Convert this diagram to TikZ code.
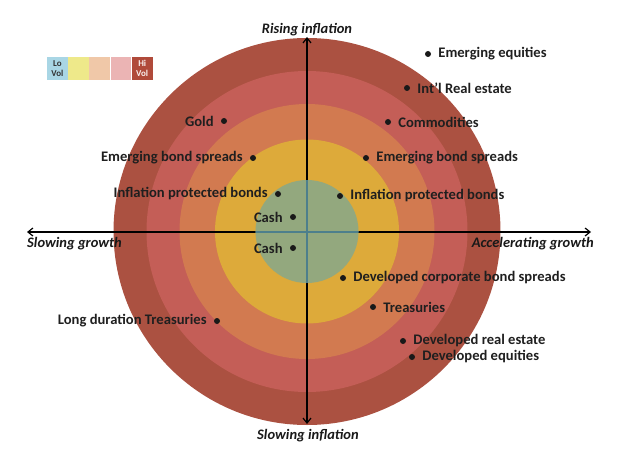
\documentclass[tikz,border=0pt]{standalone}
\usepackage{fontspec}
\setmainfont{Carlito}
\usetikzlibrary{arrows.meta,positioning}
\definecolor{ringout}{HTML}{AB5141}
\definecolor{ringred}{HTML}{C45E57}
\definecolor{ringorange}{HTML}{D27A50}
\definecolor{ringyellow}{HTML}{DDAA3A}
\definecolor{ringgreen}{HTML}{93A87E}
\definecolor{axisteal}{HTML}{4D7F8C}
\definecolor{vollo}{HTML}{A9D6E5}
\definecolor{volyellow}{HTML}{EEE98A}
\definecolor{volpeach}{HTML}{F0C8A8}
\definecolor{volpink}{HTML}{EBB4B4}
\definecolor{volhi}{HTML}{B04A3A}

\begin{document}
\begin{tikzpicture}[x=1pt,y=-1pt,
    dot/.style={circle,fill=black!90,inner sep=0pt,minimum size=6pt},
    lbl/.style={font=\fontsize{14.6}{17}\selectfont\bfseries,text=black!88,inner sep=0pt},
    axislabel/.style={font=\fontsize{14.5}{17}\selectfont\bfseries\itshape,text=black!90,inner sep=0pt},
    axis/.style={line width=1.2pt,{Straight Barb[length=5pt,width=8pt]}-{Straight Barb[length=5pt,width=8pt]}},
    volcell/.style={minimum width=20.8pt,minimum height=23pt,inner sep=0pt,
      font=\fontsize{9}{9.5}\selectfont\bfseries,align=center}]
  \useasboundingbox (0,0) rectangle (631,473);

  \coordinate (c) at (307,231.5);
  \fill[ringout] (c) circle[radius=193.5pt];
  \fill[ringred] (c) circle[radius=160.5pt];
  \fill[ringorange] (c) circle[radius=127.5pt];
  \fill[ringyellow] (c) circle[radius=92pt];

  \coordinate (west) at (27,232);
  \coordinate (east) at (591,232);
  \coordinate (north) at (307,37);
  \coordinate (south) at (307,424);
  \draw[axis] (west) -- (east);
  \draw[axis] (south) -- (north);

  \fill[ringgreen] (c) circle[radius=51.5pt];
  \begin{scope}
    \clip (c) circle[radius=51.5pt];
    \draw[axisteal,line width=1.2pt] (west) -- (east) (south) -- (north);
  \end{scope}

  \node[axislabel] (risinf) at (307,30) {Rising inflation};
  \node[axislabel] (slowinf) at (308,436) {Slowing inflation};
  \node[axislabel,anchor=west] (slowgr) at (27,244) {Slowing growth};
  \node[axislabel,anchor=east] (accgr) at (594,244) {Accelerating growth};

  \node[dot] (emeq) at (428,54) {};
  \node[lbl,right=7pt of emeq] (emeqlbl) {Emerging equities};
  \node[dot] (intre) at (407,88) {};
  \node[lbl,right=7pt of intre] (intrelbl) {Int’l Real estate};
  \node[dot] (commod) at (388,122) {};
  \node[lbl,right=7pt of commod] (commodlbl) {Commodities};
  \node[dot] (ebsr) at (366,158) {};
  \node[lbl,right=7pt of ebsr] (ebsrlbl) {Emerging bond spreads};
  \node[dot] (ipbr) at (340,196) {};
  \node[lbl,right=7pt of ipbr] (ipbrlbl) {Inflation protected bonds};
  \node[dot] (gold) at (224,121) {};
  \node[lbl,left=7pt of gold] (goldlbl) {Gold};
  \node[dot] (ebsl) at (253,158) {};
  \node[lbl,left=7pt of ebsl] (ebsllbl) {Emerging bond spreads};
  \node[dot] (ipbl) at (278,194) {};
  \node[lbl,left=7pt of ipbl] (ipbllbl) {Inflation protected bonds};
  \node[dot] (cashu) at (293,217) {};
  \node[lbl,left=7pt of cashu] (cashulbl) {Cash};
  \node[dot] (cashd) at (293,248) {};
  \node[lbl,left=7pt of cashd] (cashdlbl) {Cash};
  \node[dot] (dcbs) at (343,278) {};
  \node[lbl,right=7pt of dcbs] (dcbslbl) {Developed corporate bond spreads};
  \node[dot] (treas) at (373,307) {};
  \node[lbl,right=7pt of treas] (treaslbl) {Treasuries};
  \node[dot] (ldt) at (217,321) {};
  \node[lbl,left=7pt of ldt] (ldtlbl) {Long duration Treasuries};
  \node[dot] (dre) at (403,341) {};
  \node[lbl,right=7pt of dre] (drelbl) {Developed real estate};
  \node[dot] (deq) at (412,357) {};
  \node[lbl,right=7pt of deq] (deqlbl) {Developed equities};

  \node[volcell,fill=vollo,text=black!80] (vlo) at (57.4,68.5) {Lo\\Vol};
  \node[volcell,fill=volyellow,right=0pt of vlo] (vyel) {};
  \node[volcell,fill=volpeach,right=0pt of vyel] (vpea) {};
  \node[volcell,fill=volpink,right=0pt of vpea] (vpin) {};
  \node[volcell,fill=volhi,text=white!92!volhi,right=0pt of vpin] (vhi) {Hi\\Vol};
\end{tikzpicture}
\end{document}
